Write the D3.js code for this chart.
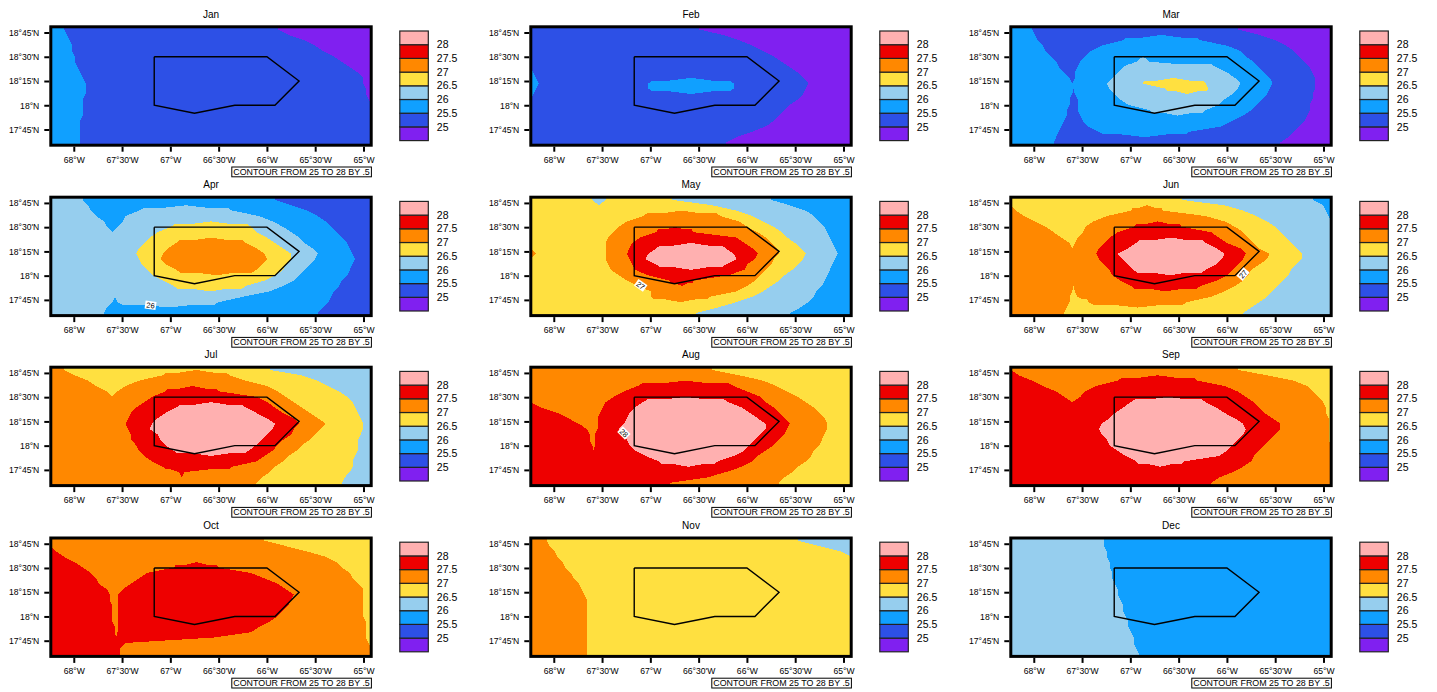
<!DOCTYPE html>
<html>
<head>
<meta charset="utf-8">
<script src="https://cdn.jsdelivr.net/npm/d3@7"></script>
<style>
body {margin: 0; background: #fff;}
text {font-family: "Liberation Sans", Arial, sans-serif; fill: #000;}
</style>
</head>
<body>
<div id="chart"></div>
<script>
// each row is a latitude strip, north to south:
// "band endCol band endCol ..." where band indexes bandColors
const jan = ["2 5 1 85 0 120","2 6 1 89 0 120","2 7 1 95 0 120","2 8 1 99 0 120","2 8 1 102 0 120","2 9 1 106 0 120","2 9 1 109 0 120","2 10 1 112 0 120","2 11 1 115 0 120","2 12 1 117 0 120","2 13 1 117 0 120","2 13 1 118 0 120","2 13 1 118 0 120","2 12 1 119 0 120","2 12 1 120","2 12 1 120","2 12 1 120","2 11 1 120","2 11 1 120","2 11 1 120","2 11 1 120","2 11 1 120"];
const feb = ["1 63 0 120","1 72 0 120","1 78 0 120","1 83 0 120","1 87 0 120","1 91 0 120","1 94 0 120","1 97 0 120","2 1 1 100 0 120","2 2 1 102 0 120","2 3 1 44 2 76 1 104 0 120","2 2 1 44 2 76 1 103 0 120","2 1 1 102 0 120","1 100 0 120","1 97 0 120","1 95 0 120","1 93 0 120","1 91 0 120","1 88 0 120","1 83 0 120","1 77 0 120","1 73 0 120"];
const mar = ["2 8 1 85 0 120","2 9 1 93 0 120","2 10 1 42 2 71 1 99 0 120","2 12 1 34 2 81 1 103 0 120","2 13 1 30 2 86 1 106 0 120","2 15 1 28 2 88 1 108 0 120","2 17 1 26 2 47 3 52 2 91 1 110 0 120","2 18 1 25 2 42 3 77 2 93 1 112 0 120","2 20 1 24 2 40 3 81 2 95 1 113 0 120","2 22 1 24 2 38 3 84 2 97 1 114 0 120","2 36 3 49 4 73 3 86 2 98 1 114 0 120","2 37 3 58 4 74 3 85 2 97 1 114 0 120","2 23 1 24 2 39 3 83 2 96 1 113 0 120","2 22 1 25 2 41 3 80 2 94 1 113 0 120","2 22 1 25 2 44 3 78 2 92 1 112 0 120","2 21 1 25 2 52 3 73 2 90 1 112 0 120","2 21 1 26 2 87 1 111 0 120","2 20 1 27 2 83 1 110 0 120","2 19 1 29 2 79 1 108 0 120","2 18 1 33 2 67 1 106 0 120","2 17 1 104 0 120","2 16 1 101 0 120"];
const apr = ["3 12 2 84 1 120","3 14 2 90 1 120","3 15 2 33 3 68 2 96 1 120","3 17 2 28 3 78 2 100 1 120","3 20 2 27 3 83 2 103 1 120","3 21 2 25 3 45 4 75 3 87 2 105 1 120","3 40 4 77 3 90 2 107 1 120","3 37 4 81 3 93 2 109 1 120","3 35 4 47 5 73 4 84 3 95 2 111 1 120","3 33 4 44 5 77 4 87 3 98 2 112 1 120","3 32 4 42 5 80 4 90 3 100 2 113 1 120","3 33 4 41 5 81 4 90 3 99 2 114 1 120","3 34 4 43 5 79 4 88 3 97 2 113 1 120","3 36 4 47 5 77 4 87 3 95 2 112 1 120","3 38 4 84 3 93 2 111 1 120","3 42 4 80 3 91 2 109 1 120","3 46 4 73 3 87 2 108 1 120","3 82 2 106 1 120","3 72 2 105 1 120","3 23 2 25 3 63 2 104 1 120","3 21 2 102 1 120","3 20 2 100 1 120"];
const may = ["4 23 3 28 4 53 3 90 2 120","4 68 3 97 2 120","4 77 3 103 2 120","4 42 5 71 4 83 3 106 2 120","4 36 5 78 4 87 3 108 2 120","4 33 5 81 4 91 3 110 2 120","4 31 5 47 6 61 5 85 4 94 3 111 2 120","4 29 5 41 6 77 5 88 4 96 3 112 2 120","4 28 5 38 6 80 5 90 4 99 3 113 2 120","4 28 5 37 6 47 7 73 6 83 5 92 4 101 3 114 2 120","5 2 4 28 5 36 6 44 7 76 6 85 5 93 4 103 3 115 2 120","4 28 5 37 6 43 7 77 6 84 5 91 4 102 3 114 2 120","4 29 5 38 6 47 7 73 6 81 5 90 4 100 3 113 2 120","4 30 5 39 6 80 5 88 4 98 3 112 2 120","4 33 5 44 6 74 5 86 4 95 3 111 2 120","4 36 5 52 6 61 5 84 4 93 3 110 2 120","4 40 5 81 4 90 3 109 2 120","4 45 5 77 4 87 3 107 2 120","4 45 5 67 4 83 3 106 2 120","4 77 3 104 2 120","4 70 3 101 2 120","4 62 3 97 2 120"];
const jun = ["4 64 3 113 2 120","4 80 3 117 2 120","5 2 4 45 5 57 4 87 3 118 2 120","5 5 4 36 5 73 4 92 3 119 2 120","5 9 4 31 5 80 4 96 3 120","5 13 4 28 5 46 6 64 5 84 4 99 3 120","5 16 4 27 5 40 6 75 5 87 4 101 3 120","5 19 4 25 5 37 6 78 5 89 4 103 3 120","5 22 4 24 5 35 6 47 7 73 6 81 5 91 4 105 3 120","5 33 6 44 7 77 6 86 5 93 4 107 3 120","5 32 6 40 7 80 6 88 5 97 4 109 3 120","5 33 6 42 7 79 6 87 5 96 4 109 3 120","5 35 6 44 7 77 6 85 5 93 4 107 3 120","5 37 6 46 7 73 6 83 5 90 4 105 3 120","5 38 6 81 5 89 4 104 3 120","5 41 6 77 5 87 4 102 3 120","5 45 6 71 5 84 4 100 3 120","5 23 4 24 5 80 4 98 3 120","5 22 4 25 5 75 4 96 3 120","5 22 4 29 5 66 4 93 3 120","5 21 4 90 3 120","5 20 4 87 3 120"];
const jul = ["5 5 4 82 3 120","5 9 4 42 5 67 4 94 3 120","5 14 4 33 5 73 4 100 3 120","5 17 4 28 5 81 4 104 3 120","5 21 4 25 5 43 6 63 5 85 4 108 3 120","5 38 6 77 5 88 4 111 3 120","5 35 6 81 5 91 4 113 3 120","5 32 6 47 7 73 6 84 5 94 4 114 3 120","5 30 6 43 7 77 6 87 5 97 4 115 3 120","5 29 6 40 7 81 6 91 5 100 4 116 3 120","5 28 6 38 7 84 6 93 5 103 4 117 3 120","5 29 6 37 7 83 6 91 5 101 4 117 3 120","5 30 6 40 7 81 6 90 5 99 4 116 3 120","5 30 6 41 7 79 6 87 5 97 4 115 3 120","5 32 6 43 7 77 6 85 5 94 4 115 3 120","5 33 6 46 7 74 6 83 5 92 4 115 3 120","5 35 6 80 5 89 4 114 3 120","5 38 6 77 5 87 4 113 3 120","5 42 6 68 5 84 4 113 3 120","5 48 6 50 5 82 4 112 3 120","5 79 4 110 3 120","5 77 4 109 3 120"];
const aug = ["5 68 4 120","5 78 4 120","5 87 4 120","5 40 6 76 5 92 4 120","5 35 6 81 5 96 4 120","5 31 6 86 5 100 4 120","5 28 6 42 7 74 6 88 5 103 4 120","6 4 5 27 6 39 7 79 6 91 5 106 4 120","6 10 5 26 6 37 7 82 6 93 5 108 4 120","6 14 5 25 6 36 7 85 6 95 5 110 4 120","6 18 5 25 6 35 7 88 6 97 5 111 4 120","6 21 5 25 6 33 7 88 6 96 5 111 4 120","6 22 5 24 6 34 7 86 6 95 5 110 4 120","6 22 5 24 6 36 7 84 6 93 5 109 4 120","6 23 5 24 6 37 7 82 6 91 5 108 4 120","6 39 7 80 6 88 5 106 4 120","6 43 7 76 6 85 5 105 4 120","6 48 7 70 6 83 5 103 4 120","6 79 5 100 4 120","6 73 5 98 4 120","6 66 5 95 4 120","6 52 5 93 4 120"];
const sep = ["5 85 4 120","6 3 5 96 4 120","6 8 5 40 6 70 5 106 4 120","6 12 5 32 6 80 5 111 4 120","6 17 5 28 6 85 5 113 4 120","6 20 5 26 6 88 5 115 4 120","6 45 7 73 6 91 5 117 4 120","6 42 7 77 6 93 5 118 4 120","6 39 7 80 6 95 5 118 4 120","6 37 7 84 6 98 5 119 4 120","6 34 7 87 6 101 5 119 4 120","6 33 7 88 6 101 5 119 4 120","6 34 7 87 6 99 5 119 4 120","6 36 7 85 6 97 5 119 4 120","6 37 7 83 6 95 5 120","6 40 7 81 6 93 5 120","6 43 7 78 6 91 5 120","6 47 7 65 6 90 5 120","6 87 5 120","6 83 5 120","6 78 5 120","6 75 5 120"];
const oct = ["5 80 4 120","5 88 4 120","6 2 5 96 4 120","6 5 5 103 4 120","6 9 5 107 4 120","6 12 5 46 6 63 5 109 4 120","6 15 5 36 6 75 5 112 4 120","6 17 5 33 6 80 5 113 4 120","6 18 5 30 6 85 5 115 4 120","6 21 5 27 6 88 5 117 4 120","6 22 5 25 6 91 5 117 4 120","6 22 5 25 6 90 5 117 4 120","6 23 5 25 6 89 5 117 4 120","6 23 5 25 6 87 5 117 4 120","6 23 5 25 6 85 5 117 4 120","6 23 5 25 6 82 5 118 4 120","6 24 5 25 6 78 5 118 4 120","6 24 5 25 6 75 5 118 4 120","6 61 5 118 4 120","6 28 5 119 4 120","6 26 5 120","6 26 5 120"];
const nov = ["5 6 4 100 3 120","5 7 4 108 3 120","5 9 4 116 3 120","5 10 4 120","5 12 4 120","5 13 4 120","5 15 4 120","5 16 4 120","5 18 4 120","5 19 4 120","5 20 4 120","5 21 4 120","5 21 4 120","5 21 4 120","5 21 4 120","5 21 4 120","5 21 4 120","5 21 4 120","5 21 4 120","5 21 4 120","5 21 4 120","5 21 4 120"];
const dec = ["3 35 2 120","3 35 2 120","3 36 2 120","3 36 2 120","3 37 2 120","3 37 2 120","3 38 2 120","3 38 2 120","3 39 2 120","3 40 2 120","3 40 2 120","3 41 2 120","3 42 2 120","3 42 2 120","3 43 2 120","3 44 2 120","3 44 2 120","3 45 2 120","3 46 2 120","3 46 2 120","3 47 2 120","3 48 2 120"];

const monthNames = ["Jan","Feb","Mar","Apr","May","Jun","Jul","Aug","Sep","Oct","Nov","Dec"];
const monthRows = [jan,feb,mar,apr,may,jun,jul,aug,sep,oct,nov,dec];

const contourLevels = [25,25.5,26,26.5,27,27.5,28];
const bandColors = ["#8020f0","#2d50e6","#10a0ff","#96ceee","#ffe040","#ff8800","#ee0000","#ffb0b0"];

const lonTicks = [-68,-67.5,-67,-66.5,-66,-65.5,-65];
const latTicks = [18.75,18.5,18.25,18,17.75];

const islandLon = [-67.167,-66,-65.667,-65.917,-66.333,-66.75,-67.167,-67.167];
const islandLat = [18.5,18.5,18.25,18,18,17.917,18,18.5];

// labels left on the contour lines: month index, lon, lat, text, angle
const lineLabelMonth = [3,4,5,7];
const lineLabelLon = [-67.205,-67.10,-65.833,-67.274];
const lineLabelLat = [17.695,17.90,18.016,18.13];
const lineLabelText = ["26","27","27","28"];
const lineLabelAngle = [8,35,-50,45];

const width = 1437;
const height = 692;
const colLeft = [50.8,530.8,1010.8];
const rowTop = [26.8,197.2,367.2,538];
const plotW = 320.4;
const plotH = 118.4;

const nCols = 120;
const nRows = 22;

const x = d3.scaleLinear().domain([-68.238,-64.92]).range([0,plotW]);
const y = d3.scaleLinear().domain([18.809,17.588]).range([0,plotH]);
// native grid of the field, in columns and rows
const colLon = d3.scaleLinear().domain([0,nCols]).range(x.domain());
const rowLat = d3.scaleLinear().domain([0,nRows]).range(y.domain());

const barY = d3.scaleLinear().domain([bandColors.length,0]).range([4.2,113.8]);

const fieldLine = d3.line()
    .x(function(d) {return x(colLon(d[0]));})
    .y(function(d) {return y(rowLat(d[1]));});

function lonFormat(d) {
    const a = Math.abs(d);
    const deg = Math.floor(a);
    const min = Math.round((a-deg)*60);
    return min === 0 ? deg+"°W" : deg+"°"+min+"'W";
}
function latFormat(d) {
    const deg = Math.floor(d);
    const min = Math.round((d-deg)*60);
    return min === 0 ? deg+"°N" : deg+"°"+min+"'N";
}

function parseRow(s) {
    const p = s.split(" ").map(Number);
    const runs = [];
    let start = 0;
    for (let i = 0; i < p.length; i += 2) {
        runs.push({band: p[i], start: start, end: p[i+1]});
        start = p[i+1];
    }
    return runs;
}

// a band that closes between two strips: open a zero width run in the other
// strip so the outlines can be joined. Returns the new runs plus the closures
function openClosures(src, other, rowOfSrc, closures) {
    const out = other.slice();
    for (let i = 1; i < src.length-1; i++) {
        if (src[i-1].band !== src[i+1].band) continue;
        const c = (src[i].start+src[i].end)/2;
        const k = out.findIndex(function(t) {
            return t.band === src[i-1].band && t.start < c && t.end > c;
        });
        if (k < 0) continue;
        const t = out[k];
        out.splice(k, 1,
            {band: t.band, start: t.start, end: c},
            {band: src[i].band, start: c, end: c},
            {band: t.band, start: c, end: t.end});
        closures.push({band: src[i].band, start: src[i].start, end: src[i].end, row: rowOfSrc});
    }
    return out;
}

// pair up the runs of two strips, same band only, keeping outlines close
function alignRuns(a, b) {
    const cost = d3.range(a.length+1).map(function() {return new Array(b.length+1).fill(0);});
    for (let i = a.length; i >= 0; i--) {
        for (let j = b.length; j >= 0; j--) {
            if (i === a.length && j === b.length) continue;
            let best = Infinity;
            if (i < a.length) best = Math.min(best, cost[i+1][j]+a[i].end-a[i].start+8);
            if (j < b.length) best = Math.min(best, cost[i][j+1]+b[j].end-b[j].start+8);
            if (i < a.length && j < b.length && a[i].band === b[j].band) {
                best = Math.min(best, cost[i+1][j+1]+Math.abs(a[i].start-b[j].start)+Math.abs(a[i].end-b[j].end));
            }
            cost[i][j] = best;
        }
    }
    const pairs = [];
    let i = 0, j = 0;
    while (i < a.length || j < b.length) {
        if (i < a.length && j < b.length && a[i].band === b[j].band &&
            cost[i][j] === cost[i+1][j+1]+Math.abs(a[i].start-b[j].start)+Math.abs(a[i].end-b[j].end)) {
            pairs.push([a[i], b[j]]); i++; j++;
        } else if (i < a.length && cost[i][j] === cost[i+1][j]+a[i].end-a[i].start+8) {
            pairs.push([a[i], null]); i++;
        } else {
            pairs.push([null, b[j]]); j++;
        }
    }
    return pairs;
}

function drawField(g, rows) {
    const field = g.append("g").attr("shape-rendering", "crispEdges");
    const parsed = rows.map(parseRow);

    function addPoly(points, band) {
        field.append("path")
            .attr("d", fieldLine(points)+"Z")
            .attr("fill", bandColors[band]);
    }

    // half strips along the top and bottom of the plot
    parsed[0].forEach(function(d) {
        addPoly([[d.start,0],[d.end,0],[d.end,0.5],[d.start,0.5]], d.band);
    });
    parsed[nRows-1].forEach(function(d) {
        addPoly([[d.start,nRows-0.5],[d.end,nRows-0.5],[d.end,nRows],[d.start,nRows]], d.band);
    });

    for (let r = 0; r < nRows-1; r++) {
        const top = r+0.5;
        const bot = r+1.5;
        const closures = [];
        const a = openClosures(parsed[r+1], parsed[r], bot, closures);
        const b = openClosures(parsed[r], parsed[r+1], top, closures);
        let tx = 0, bx = 0;
        alignRuns(a, b).forEach(function(p) {
            const t2 = p[0] ? p[0].end : tx;
            const b2 = p[1] ? p[1].end : bx;
            const band = p[0] ? p[0].band : p[1].band;
            if (t2 > tx || b2 > bx) addPoly([[tx,top],[t2,top],[b2,bot],[bx,bot]], band);
            tx = t2;
            bx = b2;
        });
        // wide bands end flat half way between strips, narrow ones stay pointed
        closures.forEach(function(c) {
            const w = c.end-c.start;
            if (w <= 6) return;
            const mid = (c.start+c.end)/2;
            addPoly([[c.start,c.row],[c.end,c.row],[mid+0.45*w,r+1],[mid-0.45*w,r+1]], c.band);
        });
    }
}

const svg = d3.select("#chart")
    .append("svg")
    .attr("width", width)
    .attr("height", height);

monthNames.forEach(function(name, m) {
    const g = svg.append("g")
        .attr("transform", "translate("+colLeft[m%3]+","+rowTop[Math.floor(m/3)]+")");

    drawField(g, monthRows[m]);

    // island outline
    const line = d3.line()
        .x(function(d) {return x(islandLon[d]);})
        .y(function(d) {return y(islandLat[d]);});
    g.append("path")
        .attr("d", line(d3.range(islandLon.length)))
        .attr("fill", "none")
        .attr("stroke", "#000")
        .attr("stroke-width", 1.4);

    // contour line labels
    lineLabelMonth.forEach(function(lm, i) {
        if (lm !== m) return;
        const lab = g.append("g")
            .attr("transform", "translate("+x(lineLabelLon[i])+","+y(lineLabelLat[i])+") rotate("+lineLabelAngle[i]+")");
        lab.append("rect").attr("x", -5.5).attr("y", -4).attr("width", 11).attr("height", 8).attr("fill", "#fff");
        lab.append("text").attr("text-anchor", "middle").attr("y", 2.8).style("font-size", "7.5px").text(lineLabelText[i]);
    });

    // frame
    g.append("rect")
        .attr("width", plotW)
        .attr("height", plotH)
        .attr("fill", "none")
        .attr("stroke", "#000")
        .attr("stroke-width", 3);

    // axes
    const xAxis = g.append("g")
        .attr("transform", "translate(0,"+(plotH+1.5)+")")
        .call(d3.axisBottom(x).tickValues(lonTicks).tickFormat(lonFormat).tickSize(5).tickPadding(5));
    const yAxis = g.append("g")
        .attr("transform", "translate(-1.5,0)")
        .call(d3.axisLeft(y).tickValues(latTicks).tickFormat(latFormat).tickSize(5).tickPadding(5));
    [xAxis, yAxis].forEach(function(a) {
        a.select(".domain").remove();
        a.selectAll("line").attr("stroke", "#000").attr("stroke-width", 2);
        a.selectAll("text").style("font-size", "8.6px").style("font-family", '"Liberation Sans", Arial, sans-serif');
    });

    // title
    g.append("text")
        .attr("x", plotW/2)
        .attr("y", -9)
        .attr("text-anchor", "middle")
        .style("font-size", "10px")
        .text(name);

    // contour note
    g.append("rect")
        .attr("x", 181)
        .attr("y", 140.2)
        .attr("width", 139.6)
        .attr("height", 9.8)
        .attr("fill", "#fff")
        .attr("stroke", "#000")
        .attr("stroke-width", 1);
    g.append("text")
        .attr("x", 182.5)
        .attr("y", 148.3)
        .attr("textLength", 136.5)
        .attr("lengthAdjust", "spacingAndGlyphs")
        .style("font-size", "9px")
        .text("CONTOUR FROM 25 TO 28 BY .5");

    // colour bar, warm end on top
    const bar = g.append("g").attr("transform", "translate(349,0)");
    bar.selectAll("rect")
        .data(bandColors)
        .enter()
        .append("rect")
        .attr("x", 0)
        .attr("y", function(d, i) {return barY(i+1);})
        .attr("width", 28.5)
        .attr("height", function(d, i) {return barY(i)-barY(i+1);})
        .attr("fill", function(d) {return d;})
        .attr("stroke", "#222")
        .attr("stroke-width", 1.2);
    bar.selectAll("text")
        .data(contourLevels)
        .enter()
        .append("text")
        .attr("x", 37)
        .attr("y", function(d, i) {return barY(i+1)+3.7;})
        .style("font-size", "10.5px")
        .text(function(d) {return d;});
});
</script>
</body>
</html>
